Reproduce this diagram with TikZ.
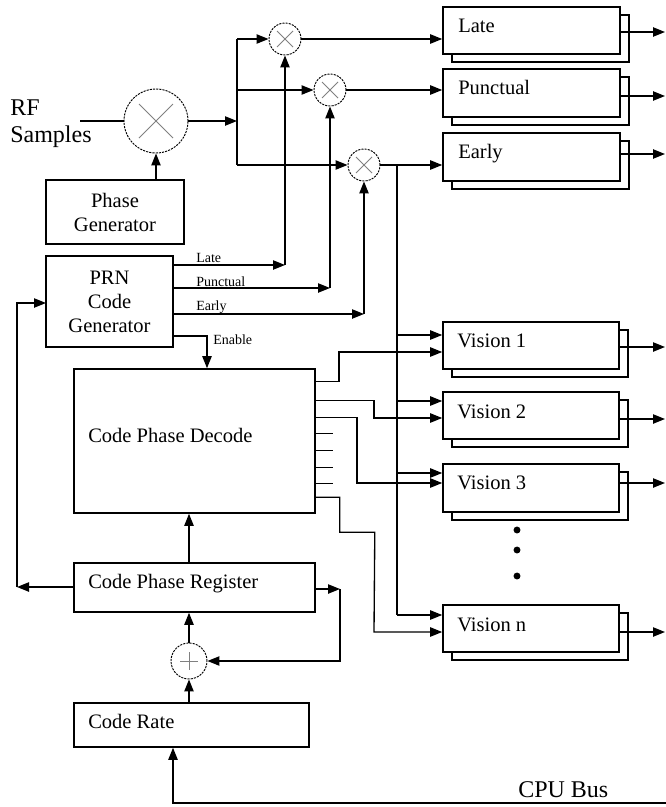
\documentclass[tikz,border=0pt]{standalone}
\usepackage{fontspec}
\setmainfont{Liberation Serif}
\usetikzlibrary{arrows.meta,fit,calc}
\newcommand\mkbox[5]{%
  \draw[boxline] ({#2+9},{#3+8}) rectangle ({#4+9},{#5+8});
  \node[fit={(#2,#3) (#4,#5)}, boxline, fill=white, inner sep=0pt] (#1) {};
}
\begin{document}
\begin{tikzpicture}[x=0.75pt,y=-0.75pt,
  >={Triangle[length=9pt,width=7pt]},
  conn/.style={line width=1pt},
  boxline/.style={draw, line width=1.2pt},
  mixer/.style={circle, draw, dash pattern=on 1.6pt off 0.8pt, line width=0.7pt, inner sep=0pt, fill=white},
  xmark/.style={gray, line width=0.7pt},
  lbl/.style={font=\fontsize{15.4}{18}\selectfont, inner sep=0pt},
  big/.style={font=\fontsize{18}{21}\selectfont, inner sep=0pt},
  small/.style={font=\fontsize{10.5}{12}\selectfont, inner sep=0pt},
]
\useasboundingbox (0,0) rectangle (666,807);

% RF input and main mixer
\node[big, anchor=base west] (rf) at (10,115) {RF};
\node[big, anchor=base west] (samp) at (10,142) {Samples};
\node[mixer, minimum size=48pt] (M) at (156,121) {};
\draw[xmark] ($(M.center)+(-17,-17)$) -- ($(M.center)+(17,17)$)
             ($(M.center)+(-17,17)$) -- ($(M.center)+(17,-17)$);
\coordinate (rfin) at (80,121);
\draw[conn] (rfin) -- (M.west);

% Phase generator
\node[fit={(46,180) (184,244)}, boxline, inner sep=0pt] (pg) {};
\node[lbl, align=center] at (pg.center) {Phase\\Generator};
\draw[conn,->] (pg.north -| M) -- (M.south);

% bus and correlator mixers
\coordinate (bus) at (237,121);
\coordinate (busT) at (237,39);
\coordinate (busB) at (237,165);
\draw[conn,->] (M.east) -- (bus);
\draw[conn] (busT) -- (busB);
\node[mixer, minimum size=24pt] (m1) at (285,39) {};
\node[mixer, minimum size=24pt] (m2) at (330,90) {};
\node[mixer, minimum size=24pt] (m3) at (364,165) {};
\foreach \m in {m1,m2,m3}{
  \draw[xmark] ($(\m.center)+(-8,-8)$) -- ($(\m.center)+(8,8)$)
               ($(\m.center)+(-8,8)$) -- ($(\m.center)+(8,-8)$);
}
\draw[conn,->] (busT) -- (m1.west);
\draw[conn,->] (bus |- m2) -- (m2.west);
\draw[conn,->] (busB) -- (m3.west);

% accumulator boxes
\mkbox{late}{443}{7}{620}{54}
\mkbox{punc}{443}{69}{620}{117}
\mkbox{early}{443}{133}{620}{181}
\mkbox{v1}{443}{322}{619}{369}
\mkbox{v2}{443}{392}{619}{439}
\mkbox{v3}{443}{464}{619}{512}
\mkbox{vn}{443}{605}{619}{652}
\node[lbl, anchor=base west] at (458,32) {Late};
\node[lbl, anchor=base west] at (458,94) {Punctual};
\node[lbl, anchor=base west] at (458,158) {Early};
\node[lbl, anchor=base west] at (457,347) {Vision 1};
\node[lbl, anchor=base west] at (457,418) {Vision 2};
\node[lbl, anchor=base west] at (457,489) {Vision 3};
\node[lbl, anchor=base west] at (457,631) {Vision n};

\draw[conn,->] (m1.east) -- (late.west |- m1);
\draw[conn,->] (m2.east) -- (punc.west |- m2);
\draw[conn,->] (m3.east) -- (early.west |- m3);

\foreach \b/\y in {late/32, punc/96, early/154, v1/347, v2/419, v3/483, vn/632}{
  \coordinate (o\b) at (665,\y);
  \draw[conn,->] (\b.east |- o\b) -- (o\b);
}

% PRN code generator
\node[fit={(46,256) (173,347)}, boxline, inner sep=0pt] (prn) {};
\node[lbl, align=center] at (prn.center) {PRN\\Code\\Generator};
\coordinate (cL) at (285,265);
\coordinate (cP) at (330,288);
\coordinate (cE) at (364,314);
\draw[conn,->] (prn.east |- cL) -- (cL);
\draw[conn,->] (cL) -- (m1.south);
\draw[conn,->] (prn.east |- cP) -- (cP);
\draw[conn,->] (cP) -- (m2.south);
\draw[conn,->] (prn.east |- cE) -- (cE);
\draw[conn,->] (cE) -- (m3.south);
\node[small, anchor=base west] at (196,262) {Late};
\node[small, anchor=base west] at (196,286) {Punctual};
\node[small, anchor=base west] at (196,310) {Early};

% Code phase decode
\node[fit={(74,369) (315,513)}, boxline, inner sep=0pt] (cpd) {};
\node[lbl, anchor=base west] at (88,442) {Code Phase Decode};
\coordinate (en) at (207,336);
\draw[conn,->] (prn.east |- en) -- (en) -- (en |- cpd.north);
\node[small, anchor=base west] at (213,344) {Enable};

% vertical early line to visions
\coordinate (vt) at (397,165);
\coordinate (vb) at (397,615);
\draw[conn] (vt) -- (vb);
\foreach \b/\y in {v1/335, v2/401, v3/473, vn/615}{
  \coordinate (t\b) at (397,\y);
  \draw[conn,->] (t\b) -- (\b.west |- t\b);
}

% decode outputs
\coordinate (k1) at (339,352);
\coordinate (k2) at (374,418);
\coordinate (k3) at (357,483);
\coordinate (k8) at (374,632);
\draw[conn,->] ($(cpd.north east)+(0,13)$) -| (k1) -- (v1.west |- k1);
\draw[conn,->] ($(cpd.north east)+(0,32)$) -| (k2) -- (v2.west |- k2);
\draw[conn,->] ($(cpd.north east)+(0,49)$) -| (k3) -- (v3.west |- k3);
\foreach \d in {65,82,99,115}{
  \draw[conn] ($(cpd.north east)+(0,\d)$) -- +(17,0);
}
\draw[conn,->] ($(cpd.north east)+(0,129)$) -- ++(24,0) -- ++(0,35) -- ++(35,0) -- (k8) -- (vn.west |- k8);

% dots
\fill (517,530) circle (2.6pt);
\fill (517,550) circle (2.6pt);
\fill (517,576) circle (2.6pt);

% Code phase register, adder, code rate
\node[fit={(74,563) (315,612)}, boxline, inner sep=0pt] (cpr) {};
\node[lbl, anchor=base west] at (88,588) {Code Phase Register};
\node[mixer, minimum size=27pt] (add) at (189,661) {};
\draw[xmark] ($(add.center)+(-9,0)$) -- ($(add.center)+(9,0)$)
             ($(add.center)+(0,-9)$) -- ($(add.center)+(0,9)$);
\node[fit={(74,703) (309,747)}, boxline, inner sep=0pt] (cr) {};
\node[lbl, anchor=base west] at (88,728) {Code Rate};

\draw[conn,->] (cpr.north -| add) -- (cpd.south -| add);
\draw[conn,->] (add.north) -- (cpr.south -| add);
\draw[conn,->] (cr.north -| add) -- (add.south);
\coordinate (rr) at (340,589);
\draw[conn,->] (cpr.east |- rr) -- (rr);
\draw[conn,->] (rr) |- (add.east);
\coordinate (ll) at (17,587);
\coordinate (pin) at (46,303);
\draw[conn,->] (cpr.west |- ll) -- (ll);
\draw[conn,->] (ll) |- (pin);

% CPU bus
\coordinate (cpuR) at (666,803);
\coordinate (cpuL) at (173,803);
\draw[conn,->] (cpuR) -- (cpuL) -- (cpuL |- cr.south);
\node[big, anchor=base west] at (518,797) {CPU Bus};
\end{tikzpicture}
\end{document}
